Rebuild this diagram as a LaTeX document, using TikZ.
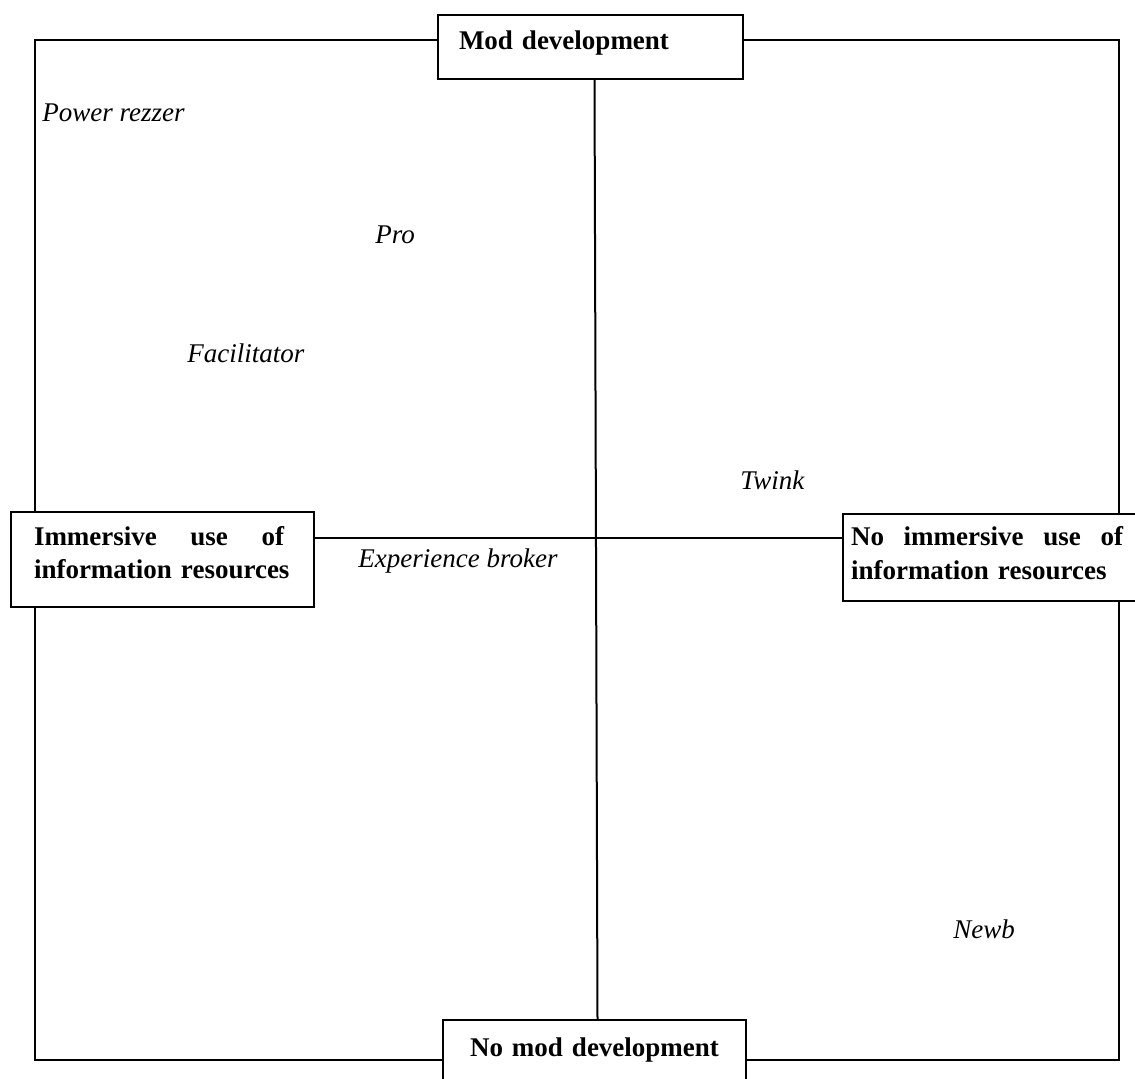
\documentclass[tikz,border=0pt]{standalone}
\usepackage{fontspec}
\setmainfont{Liberation Serif}
\begin{document}
\begin{tikzpicture}[x=0.5pt,y=-0.5pt,
  frame/.style={line width=1pt},
  boxnode/.style={draw,line width=1pt,inner ysep=0pt,font=\fontsize{13.5}{15}\selectfont\bfseries},
  lab/.style={anchor=base west,inner sep=0pt,font=\fontsize{13.5}{15}\selectfont\itshape}]
\useasboundingbox (0,0) rectangle (1135,1079);
% boxes
\node[boxnode,anchor=north west,inner xsep=10.5pt,text width=131.5pt,align=left,
  text height=17.5pt,text depth=14.5pt] (top) at (437,14) {Mod development};
\node[boxnode,anchor=north west,inner xsep=11.5pt,text width=128.5pt,align=left,
  font=\fontsize{13.5}{16.5}\selectfont\bfseries,
  text height=17pt,text depth=30.5pt] (left) at (10,511)
  {\makebox[125pt][l]{Immersive\hfill use\hfill of}\\information resources};
\node[boxnode,anchor=north west,inner xsep=4pt,text width=138.5pt,align=left,
  font=\fontsize{13.5}{17}\selectfont\bfseries,
  text height=16pt,text depth=27.5pt] (right) at (842,513)
  {\makebox[136pt][l]{No\hfill immersive\hfill use\hfill of}\\information resources};
\node[boxnode,anchor=north west,inner xsep=0pt,text width=151.5pt,align=center,
  text height=18pt,text depth=15pt] (bottom) at (442,1019) {No mod development};
% frame corners
\coordinate (tl) at (35,40);
\coordinate (tr) at (1119,40);
\coordinate (bl) at (35,1060);
\coordinate (br) at (1119,1060);
\coordinate (mid) at (595,538);
% connectors
\draw[frame] (top.west |- tl) -- (tl) -- (tl |- left.north);
\draw[frame] (top.east |- tr) -- (tr) -- (tr |- right.north);
\draw[frame] (tl |- left.south) -- (bl) -- (bl -| bottom.west);
\draw[frame] (tr |- right.south) -- (br) -- (br -| bottom.east);
\draw[frame] ([xshift=2pt]top.south) -- ([xshift=1.5pt]bottom.north);
\draw[frame] (left.east |- mid) -- (right.west |- mid);
% labels
\node[lab] (power) at (42,122) {Power rezzer};
\node[lab] (pro) at (375,244) {Pro};
\node[lab] (facil) at (187,363) {Facilitator};
\node[lab] (twink) at (740,490) {Twink};
\node[lab] (broker) at (358,568) {Experience broker};
\node[lab] (newb) at (953,938) {Newb};
\end{tikzpicture}
\end{document}
